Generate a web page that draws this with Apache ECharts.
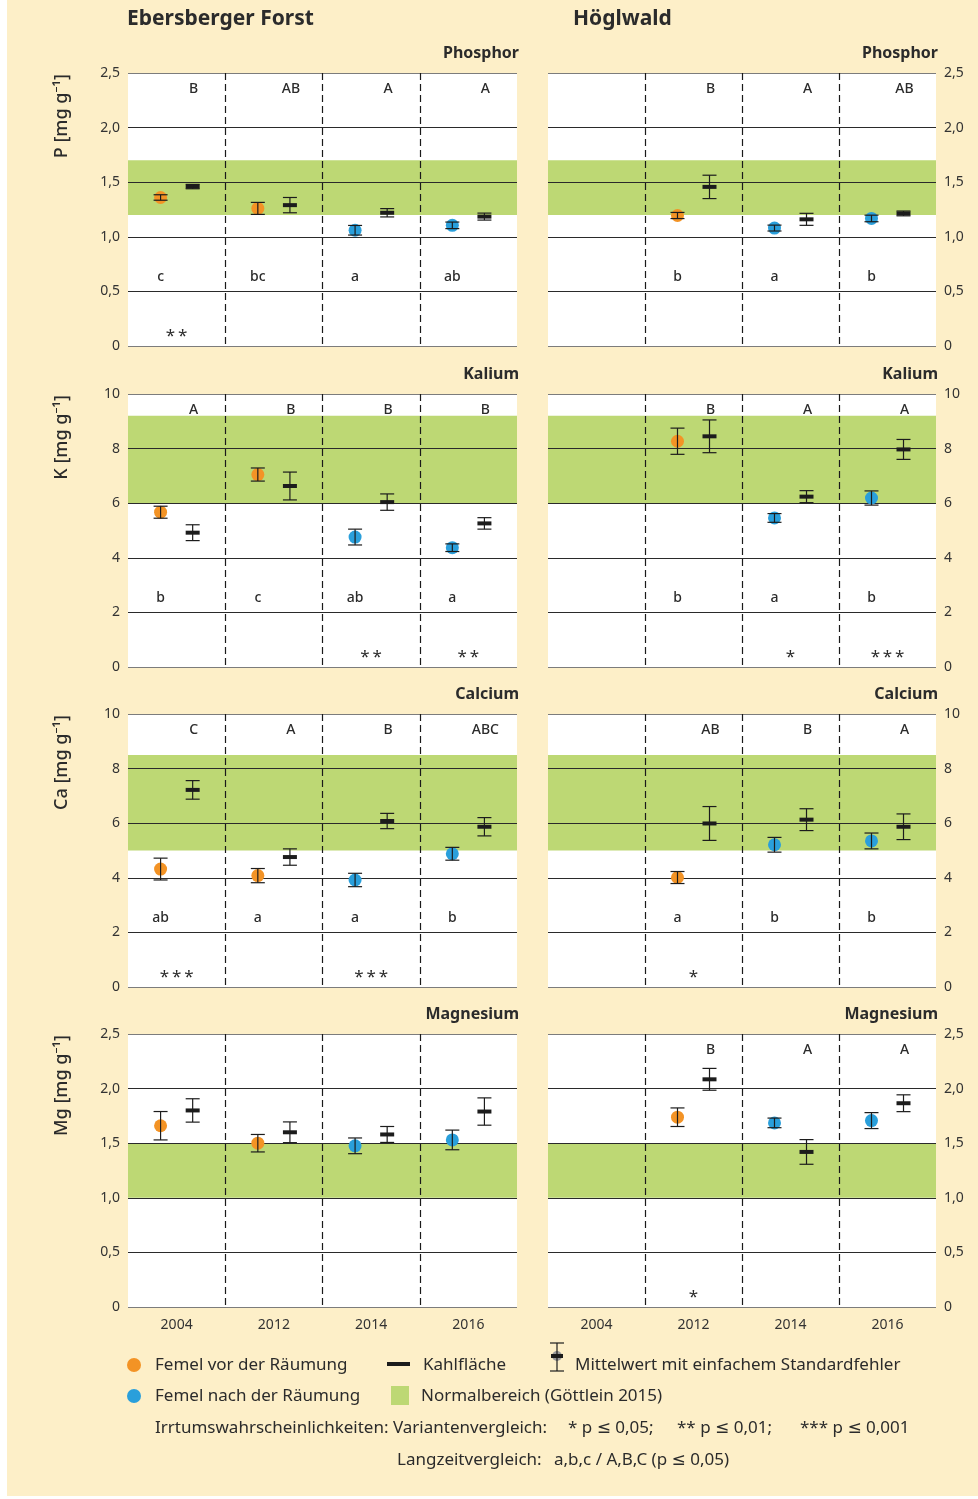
<!DOCTYPE html>
<html>
<head>
<meta charset="utf-8">
<title>Nährstoffgehalte Ebersberger Forst / Höglwald</title>
<script src="https://cdn.jsdelivr.net/npm/echarts@6/dist/echarts.min.js"></script>
<style>
  html, body { margin: 0; padding: 0; background: #fff; }
  #main { width: 978px; height: 1499px; }
</style>
</head>
<body>
<div id="main"></div>
<script>
// Aufnahmejahre und Zustand der Femel (vor / nach der Räumung)
var years = ['2004', '2012', '2014', '2016'];
var phase = ['vor', 'vor', 'nach', 'nach'];

// Normalbereiche (Göttlein 2015) [unten, oben]
var rangeP = [1.2, 1.7];
var rangeK = [6.0, 9.2];
var rangeCa = [5.0, 8.5];
var rangeMg = [1.0, 1.5];

// Ebersberger Forst: Mittelwert und einfacher Standardfehler
var ebP_femel = [1.36, 1.26, 1.06, 1.105];
var ebP_femelSe = [0.025, 0.055, 0.044, 0.03];
var ebP_kahl = [1.46, 1.29, 1.22, 1.185];
var ebP_kahlSe = [0.02, 0.07, 0.038, 0.032];
var ebK_femel = [5.67, 7.05, 4.76, 4.37];
var ebK_femelSe = [0.22, 0.24, 0.29, 0.14];
var ebK_kahl = [4.92, 6.63, 6.04, 5.26];
var ebK_kahlSe = [0.29, 0.51, 0.3, 0.21];
var ebCa_femel = [4.32, 4.08, 3.92, 4.88];
var ebCa_femelSe = [0.4, 0.26, 0.245, 0.235];
var ebCa_kahl = [7.22, 4.76, 6.08, 5.87];
var ebCa_kahlSe = [0.34, 0.3, 0.28, 0.335];
var ebMg_femel = [1.66, 1.5, 1.476, 1.53];
var ebMg_femelSe = [0.13, 0.08, 0.072, 0.09];
var ebMg_kahl = [1.8, 1.6, 1.58, 1.79];
var ebMg_kahlSe = [0.107, 0.095, 0.073, 0.125];

// Höglwald (2004 keine Aufnahme)
var hwP_femel = [null, 1.195, 1.08, 1.168];
var hwP_femelSe = [null, 0.028, 0.027, 0.03];
var hwP_kahl = [null, 1.457, 1.16, 1.214];
var hwP_kahlSe = [null, 0.107, 0.055, 0.022];
var hwK_femel = [null, 8.27, 5.46, 6.19];
var hwK_femelSe = [null, 0.48, 0.16, 0.26];
var hwK_kahl = [null, 8.45, 6.24, 7.97];
var hwK_kahlSe = [null, 0.6, 0.22, 0.365];
var hwCa_femel = [null, 4.01, 5.21, 5.35];
var hwCa_femelSe = [null, 0.22, 0.27, 0.29];
var hwCa_kahl = [null, 5.99, 6.13, 5.87];
var hwCa_kahlSe = [null, 0.62, 0.4, 0.47];
var hwMg_femel = [null, 1.738, 1.686, 1.707];
var hwMg_femelSe = [null, 0.085, 0.044, 0.073];
var hwMg_kahl = [null, 2.085, 1.42, 1.866];
var hwMg_kahlSe = [null, 0.1, 0.113, 0.077];

// Signifikanzen: Langzeitvergleich (Groß = Kahlfläche, klein = Femel), Variantenvergleich (Sterne)
var ebP_upper = ['B', 'AB', 'A', 'A'];
var ebP_lower = ['c', 'bc', 'a', 'ab'];
var ebP_stars = ['**', '', '', ''];
var ebK_upper = ['A', 'B', 'B', 'B'];
var ebK_lower = ['b', 'c', 'ab', 'a'];
var ebK_stars = ['', '', '**', '**'];
var ebCa_upper = ['C', 'A', 'B', 'ABC'];
var ebCa_lower = ['ab', 'a', 'a', 'b'];
var ebCa_stars = ['***', '', '***', ''];
var hwP_upper = ['', 'B', 'A', 'AB'];
var hwP_lower = ['', 'b', 'a', 'b'];
var hwK_upper = ['', 'B', 'A', 'A'];
var hwK_lower = ['', 'b', 'a', 'b'];
var hwK_stars = ['', '', '*', '***'];
var hwCa_upper = ['', 'AB', 'B', 'A'];
var hwCa_lower = ['', 'a', 'b', 'b'];
var hwCa_stars = ['', '*', '', ''];
var hwMg_upper = ['', 'B', 'A', 'A'];
var hwMg_stars = ['', '*', '', ''];

var ORANGE = '#f39325', BLUE = '#2a9fdb', GREEN = '#bdd874', INK = '#2b2b2b', BAR = '#1c1c1c';
var FONT = '"Noto Sans", "DejaVu Sans", sans-serif';

var panels = [
  {row: 0, col: 0, title: 'Phosphor', unit: 'P [mg g⁻¹]', max: 2.5, step: 0.5, range: rangeP,
   femel: ebP_femel, femelSe: ebP_femelSe, kahl: ebP_kahl, kahlSe: ebP_kahlSe, upper: ebP_upper, lower: ebP_lower, stars: ebP_stars},
  {row: 0, col: 1, title: 'Phosphor', max: 2.5, step: 0.5, range: rangeP,
   femel: hwP_femel, femelSe: hwP_femelSe, kahl: hwP_kahl, kahlSe: hwP_kahlSe, upper: hwP_upper, lower: hwP_lower},
  {row: 1, col: 0, title: 'Kalium', unit: 'K [mg g⁻¹]', max: 10, step: 2, range: rangeK,
   femel: ebK_femel, femelSe: ebK_femelSe, kahl: ebK_kahl, kahlSe: ebK_kahlSe, upper: ebK_upper, lower: ebK_lower, stars: ebK_stars},
  {row: 1, col: 1, title: 'Kalium', max: 10, step: 2, range: rangeK,
   femel: hwK_femel, femelSe: hwK_femelSe, kahl: hwK_kahl, kahlSe: hwK_kahlSe, upper: hwK_upper, lower: hwK_lower, stars: hwK_stars},
  {row: 2, col: 0, title: 'Calcium', unit: 'Ca [mg g⁻¹]', max: 10, step: 2, range: rangeCa,
   femel: ebCa_femel, femelSe: ebCa_femelSe, kahl: ebCa_kahl, kahlSe: ebCa_kahlSe, upper: ebCa_upper, lower: ebCa_lower, stars: ebCa_stars},
  {row: 2, col: 1, title: 'Calcium', max: 10, step: 2, range: rangeCa,
   femel: hwCa_femel, femelSe: hwCa_femelSe, kahl: hwCa_kahl, kahlSe: hwCa_kahlSe, upper: hwCa_upper, lower: hwCa_lower, stars: hwCa_stars},
  {row: 3, col: 0, title: 'Magnesium', unit: 'Mg [mg g⁻¹]', max: 2.5, step: 0.5, range: rangeMg,
   femel: ebMg_femel, femelSe: ebMg_femelSe, kahl: ebMg_kahl, kahlSe: ebMg_kahlSe},
  {row: 3, col: 1, title: 'Magnesium', max: 2.5, step: 0.5, range: rangeMg,
   femel: hwMg_femel, femelSe: hwMg_femelSe, kahl: hwMg_kahl, kahlSe: hwMg_kahlSe, upper: hwMg_upper, stars: hwMg_stars}
];

var rowTop = [73, 394, 714, 1034];
var panelH = 273;
var colLeft = [128, 548];
var colW = [389, 388];

function errorBar(x, yT, yB) {
  var ls = {stroke: BAR, lineWidth: 1.2};
  return [
    {type: 'line', shape: {x1: x, y1: yT, x2: x, y2: yB}, style: ls},
    {type: 'line', shape: {x1: x - 7, y1: yT, x2: x + 7, y2: yT}, style: ls},
    {type: 'line', shape: {x1: x - 7, y1: yB, x2: x + 7, y2: yB}, style: ls}
  ];
}

function pointData(mean, se) {
  var d = [];
  for (var i = 0; i < mean.length; i++) {
    if (mean[i] != null) d.push([i, mean[i], se[i]]);
  }
  return d;
}

function textSeries(gi, labels, frac, shift, font, spaced, max) {
  var d = [];
  for (var i = 0; i < labels.length; i++) {
    if (labels[i]) d.push([i, frac * max]);
  }
  return {
    type: 'custom', xAxisIndex: gi, yAxisIndex: gi, silent: true, z: 3,
    data: d,
    renderItem: function (params, api) {
      var i = api.value(0);
      var c = api.coord([i, api.value(1)]);
      var bw = api.size([1, 0])[0];
      var t = spaced ? labels[i].split('').join('\u2009') : labels[i];
      return {
        type: 'text', x: c[0] + shift * bw, y: c[1],
        style: {text: t, fill: INK, font: font, align: 'center', verticalAlign: 'middle'}
      };
    }
  };
}

var grids = [], xAxes = [], yAxes = [], series = [], gfx = [];

gfx.push({type: 'rect', z: -100, shape: {x: 7, y: 0, width: 971, height: 1496}, style: {fill: '#fdefc8'}});
gfx.push({type: 'text', x: 127, y: 19, style: {text: 'Ebersberger Forst', font: 'bold 21px ' + FONT, fill: INK, verticalAlign: 'middle'}});
gfx.push({type: 'text', x: 573, y: 19, style: {text: 'Höglwald', font: 'bold 21px ' + FONT, fill: INK, verticalAlign: 'middle'}});

panels.forEach(function (p, gi) {
  var top = rowTop[p.row], left = colLeft[p.col], w = colW[p.col];
  var bottomRow = p.row === 3;
  grids.push({left: left, top: top, width: w, height: panelH, containLabel: false});
  xAxes.push({
    type: 'category', gridIndex: gi, data: years, boundaryGap: true,
    axisLine: {show: false}, axisTick: {show: false},
    axisLabel: {show: bottomRow, color: '#333', fontSize: 14, margin: 11, fontFamily: FONT},
    splitLine: {show: true, interval: 0, showMinLine: false, showMaxLine: false,
      lineStyle: {color: '#1a1a1a', width: 1.2, type: [7, 4]}}
  });
  yAxes.push({
    type: 'value', gridIndex: gi, min: 0, max: p.max, interval: p.step,
    position: p.col ? 'right' : 'left',
    axisLine: {show: false}, axisTick: {show: false},
    axisLabel: {color: '#333', fontSize: 14, margin: 8, fontFamily: FONT,
      formatter: function (v) {
        if (v === 0) return '0';
        return p.step < 1 ? v.toFixed(1).replace('.', ',') : String(v);
      }},
    splitLine: {show: true, lineStyle: {width: 1.2,
      color: ['#7c7c7c', '#2a2a2a', '#2a2a2a', '#2a2a2a', '#2a2a2a', '#7c7c7c']}}
  });

  // Panelfläche und Normalbereich
  series.push({
    type: 'custom', xAxisIndex: gi, yAxisIndex: gi, silent: true, z: -1,
    data: [[0, p.range[0], p.range[1]]],
    renderItem: function (params, api) {
      var cs = params.coordSys;
      var yLo = api.coord([0, api.value(1)])[1];
      var yHi = api.coord([0, api.value(2)])[1];
      return {type: 'group', children: [
        {type: 'rect', shape: {x: cs.x, y: cs.y, width: cs.width, height: cs.height}, style: {fill: '#fff'}},
        {type: 'rect', shape: {x: cs.x, y: yHi, width: cs.width, height: yLo - yHi}, style: {fill: GREEN}}
      ]};
    }
  });

  // Femel (vor / nach der Räumung)
  series.push({
    type: 'custom', name: 'Femel', xAxisIndex: gi, yAxisIndex: gi, silent: true, z: 2,
    data: pointData(p.femel, p.femelSe),
    renderItem: function (params, api) {
      var i = api.value(0), m = api.value(1), se = api.value(2);
      var bw = api.size([1, 0])[0];
      var c = api.coord([i, m]);
      var x = c[0] - 0.165 * bw;
      var yT = api.coord([i, m + se])[1], yB = api.coord([i, m - se])[1];
      var col = phase[i] === 'vor' ? ORANGE : BLUE;
      return {type: 'group', children: [
        {type: 'circle', shape: {cx: x, cy: c[1], r: 6.5}, style: {fill: col}}
      ].concat(errorBar(x, yT, yB))};
    }
  });

  // Kahlfläche
  series.push({
    type: 'custom', name: 'Kahlfläche', xAxisIndex: gi, yAxisIndex: gi, silent: true, z: 2,
    data: pointData(p.kahl, p.kahlSe),
    renderItem: function (params, api) {
      var i = api.value(0), m = api.value(1), se = api.value(2);
      var bw = api.size([1, 0])[0];
      var c = api.coord([i, m]);
      var x = c[0] + 0.165 * bw;
      var yT = api.coord([i, m + se])[1], yB = api.coord([i, m - se])[1];
      return {type: 'group', children: [
        {type: 'rect', shape: {x: x - 7, y: c[1] - 2, width: 14, height: 4}, style: {fill: BAR}}
      ].concat(errorBar(x, yT, yB))};
    }
  });

  var letterFont = '500 14px ' + FONT;
  if (p.upper) series.push(textSeries(gi, p.upper, 0.943, 0.175, letterFont, false, p.max));
  if (p.lower) series.push(textSeries(gi, p.lower, 0.252, -0.165, letterFont, false, p.max));
  if (p.stars) series.push(textSeries(gi, p.stars, 0.037, 0, '17px ' + FONT, true, p.max));

  // Panel- und Achsentitel
  gfx.push({type: 'text', x: left + w + 2, y: top - 20,
    style: {text: p.title, font: 'bold 16px ' + FONT, fill: INK, align: 'right', verticalAlign: 'middle'}});
  if (p.unit) {
    gfx.push({type: 'text', x: 62, y: top + 1, rotation: Math.PI / 2,
      style: {text: p.unit, font: '500 18px ' + FONT, fill: INK, align: 'right', verticalAlign: 'middle'}});
  }
});

// Legende
function legText(x, y, t) {
  return {type: 'text', x: x, y: y, style: {text: t, font: '17px ' + FONT, fill: INK, verticalAlign: 'middle'}};
}
gfx.push({type: 'circle', shape: {cx: 134, cy: 1365, r: 7}, style: {fill: ORANGE}});
gfx.push(legText(155, 1365, 'Femel vor der Räumung'));
gfx.push({type: 'rect', shape: {x: 387, y: 1362, width: 23, height: 4}, style: {fill: BAR}});
gfx.push(legText(423, 1365, 'Kahlfläche'));
gfx.push({type: 'circle', shape: {cx: 557, cy: 1356, r: 5}, style: {fill: '#9a9a9a'}});
gfx.push({type: 'rect', shape: {x: 551, y: 1354, width: 12, height: 4}, style: {fill: BAR}});
errorBar(557, 1343, 1371).forEach(function (e) { gfx.push(e); });
gfx.push(legText(575, 1365, 'Mittelwert mit einfachem Standardfehler'));
gfx.push({type: 'circle', shape: {cx: 134, cy: 1396, r: 7}, style: {fill: BLUE}});
gfx.push(legText(155, 1396, 'Femel nach der Räumung'));
gfx.push({type: 'rect', shape: {x: 391, y: 1386, width: 18, height: 19}, style: {fill: GREEN}});
gfx.push(legText(421, 1396, 'Normalbereich (Göttlein 2015)'));
gfx.push(legText(155, 1428, 'Irrtumswahrscheinlichkeiten: Variantenvergleich:'));
gfx.push(legText(568, 1428, '* p ≤ 0,05;'));
gfx.push(legText(677, 1428, '** p ≤ 0,01;'));
gfx.push(legText(800, 1428, '*** p ≤ 0,001'));
gfx.push(legText(397, 1460, 'Langzeitvergleich:'));
gfx.push(legText(554, 1460, 'a,b,c / A,B,C (p ≤ 0,05)'));

var chart = echarts.init(document.getElementById('main'));
chart.setOption({
  animation: false,
  textStyle: {fontFamily: FONT},
  grid: grids,
  xAxis: xAxes,
  yAxis: yAxes,
  series: series,
  graphic: {elements: gfx}
});
window.onresize = function () { chart.resize(); };
</script>
</body>
</html>
